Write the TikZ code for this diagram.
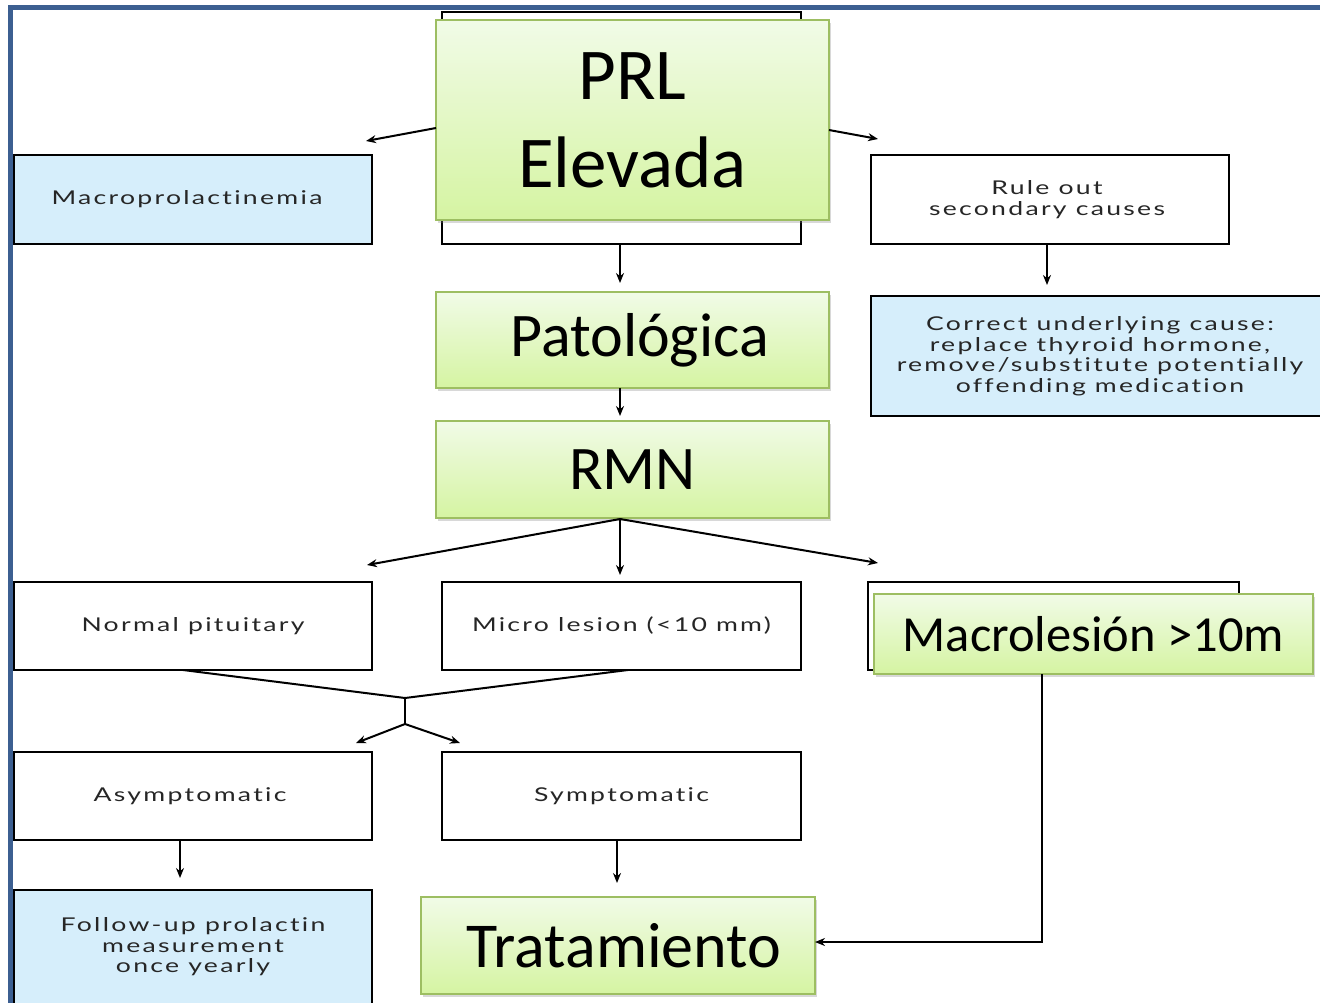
\documentclass[tikz,border=0pt]{standalone}
\usepackage{fontspec}
\usetikzlibrary{arrows.meta,shadows,calc}
\newfontfamily\calib{Carlito}
\newfontfamily\optf{Lato}[FakeStretch=1.4, LetterSpace=12, Ligatures={NoCommon}]
\definecolor{frameblue}{HTML}{3C5F91}
\definecolor{boxblue}{HTML}{D6EEFB}
\definecolor{gborder}{HTML}{9DBE62}
\definecolor{gtop}{HTML}{F1FBE7}
\definecolor{gbot}{HTML}{D5F4A2}
\tikzset{
  box/.style={draw=black, line width=2.6pt, fill=white, inner sep=0pt, outer sep=0pt,
    font=\optf\fontsize{19}{20.5}\selectfont, text=black!85, align=center},
  bluebox/.style={box, fill=boxblue},
  gbox/.style={draw=gborder, line width=1.6pt, top color=gtop, bottom color=gbot,
    drop shadow={opacity=0.3, shadow xshift=2pt, shadow yshift=-3pt},
    inner sep=0pt, outer sep=0pt, align=center, text=black,
    font=\calib\fontsize{62}{74}\selectfont},
  arr/.style={line width=2pt, -{Stealth[length=10pt,width=8pt]}},
  ln/.style={line width=2pt}
}
\begin{document}
\begin{tikzpicture}[x=1pt,y=-1pt]
\useasboundingbox (0,0) rectangle (1320,1002);
\fill[white] (0,0) rectangle (1320,1002);
\clip (0,0) rectangle (1320,1002);
% frame
\draw[frameblue, line width=5pt] (10.5,1010) -- (10.5,7) -- (1330,7);

% boxes
\node[bluebox, minimum width=358pt, minimum height=89pt] (macro) at (193,199.5) {\hspace*{-12pt}Macroprolactinemia};
\node[box, minimum width=359pt, minimum height=232pt] (hidprl) at (621.5,128) {};
\node[gbox, minimum width=393pt, minimum height=200pt, font=\calib\fontsize{73}{88}\selectfont] (prl) at (632.5,120) {PRL\\Elevada};
\node[box, minimum width=358pt, minimum height=89pt] (rule) at (1050,199.5) {\hspace*{-6pt}Rule out\\\hspace*{-6pt}secondary causes};
\node[bluebox, minimum width=458pt, minimum height=120pt] (correct) at (1100,356) {Correct underlying cause:\\replace thyroid hormone,\\remove/substitute potentially\\offending medication};
\node[gbox, minimum width=393pt, minimum height=96pt] (patol) at (632.5,340) {\hspace*{14pt}Patológica};
\node[gbox, minimum width=393pt, minimum height=97pt] (rmn) at (632.5,469.5) {RMN};
\node[box, minimum width=358pt, minimum height=88pt] (normal) at (193,626) {Normal pituitary};
\node[box, minimum width=359pt, minimum height=88pt] (micro) at (621.5,626) {Micro lesion (<10 mm)};
\node[box, minimum width=371pt, minimum height=88pt] (hidmac) at (1053.5,626) {};
\node[gbox, minimum width=439pt, minimum height=80pt, font=\calib\fontsize{50.5}{58}\selectfont] (macles) at (1093.5,634) {Macrolesión >10m};
\node[box, minimum width=358pt, minimum height=88pt] (asym) at (193,796) {\hspace*{-6pt}Asymptomatic};
\node[box, minimum width=359pt, minimum height=88pt] (sym) at (621.5,796) {Symptomatic};
\node[bluebox, minimum width=358pt, minimum height=114pt] (follow) at (193,947) {Follow-up prolactin\\measurement\\once yearly};
\node[gbox, minimum width=394pt, minimum height=97pt, font=\calib\fontsize{64}{74}\selectfont] (trat) at (618,945.5) {\hspace*{12pt}Tratamiento};

% coordinates for free ends
\coordinate (ml) at (366,141);
\coordinate (mr) at (878,139);
\coordinate (rs) at (620,519);
\coordinate (fl) at (367,565);
\coordinate (fr) at (878,563);
\coordinate (j) at (405,698);
\coordinate (j2) at (405,724);
\coordinate (al) at (356,743);
\coordinate (ar) at (460,743);
\coordinate (turn) at (1042,942);

% connectors
\draw[arr] ($(prl.west)+(0,8)$) -- (ml);
\draw[arr] ($(prl.east)+(0,10)$) -- (mr);
\draw[arr, shorten >=9pt] (620,244) -- (620,292);
\draw[arr, shorten >=11pt] (rule.south -| 1047,0) -- (correct.north -| 1047,0);
\draw[arr, shorten >=5pt] (patol.south -| 620,0) -- (rmn.north -| 620,0);
\draw[arr] (rs) -- (fl);
\draw[arr, shorten >=7pt] (rs) -- (micro.north -| rs);
\draw[arr] (rs) -- (fr);
\draw[ln] (normal.south -| 183,0) -- (j) -- (micro.south -| 628,0);
\draw[ln] (j) -- (j2);
\draw[arr] (j2) -- (al);
\draw[arr] (j2) -- (ar);
\draw[arr, shorten >=12pt] (asym.south -| 180,0) -- (follow.north -| 180,0);
\draw[arr, shorten >=14pt] (sym.south -| 617,0) -- (trat.north -| 617,0);
\draw[arr] (macles.south -| turn) -- (turn) -- (trat.east |- turn);
\end{tikzpicture}
\end{document}
